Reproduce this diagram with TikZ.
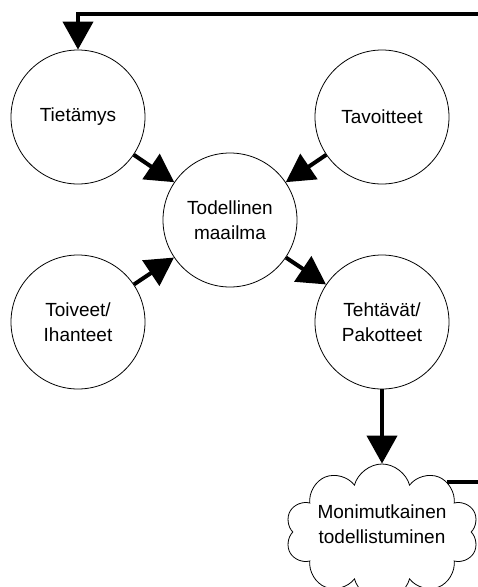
\documentclass[tikz,border=0pt]{standalone}
\usepackage{fontspec}
\setmainfont{Liberation Sans}
\usetikzlibrary{shapes.symbols,arrows.meta}

\begin{document}
\begin{tikzpicture}
  [x=1pt,y=-1pt,
   every node/.style={draw, color=black, align=center, font=\fontsize{19}{25}\selectfont},
   topic/.style={circle, minimum size=134pt, inner sep=0pt, line width=0.8pt},
   flow/.style={line width=4pt, -{Triangle[length=28pt,width=30pt]}}]

 \clip (0,0) rectangle (478,587);

 \node[topic] (tietamys) at (78,117) {Tietämys};
 \node[topic] (tavoitteet) at (382,117) {Tavoitteet};
 \node[topic] (maailma) at (230,220) {Todellinen\\maailma};
 \node[topic] (toiveet) at (78,322) {Toiveet/\\Ihanteet};
 \node[topic] (tehtavat) at (382,322) {Tehtävät/\\Pakotteet};
 \node[cloud, cloud puffs=10, cloud ignores aspect, minimum width=193pt, minimum height=136pt, inner sep=0pt, text depth=16pt, line width=0.8pt] (todellistuminen) at (382,532) {Monimutkainen\\todellistuminen};

 \coordinate (kulma) at (500,14);
 \coordinate (paluu) at (78,14);

 \foreach \from/\to in {tietamys/maailma, tavoitteet/maailma, toiveet/maailma, maailma/tehtavat, tehtavat/todellistuminen}
   \draw[flow] (\from) -- (\to);

 \draw[flow] (todellistuminen.38) -- (todellistuminen.38 -| kulma) |- (paluu) -- (tietamys);

\end{tikzpicture}
\end{document}
